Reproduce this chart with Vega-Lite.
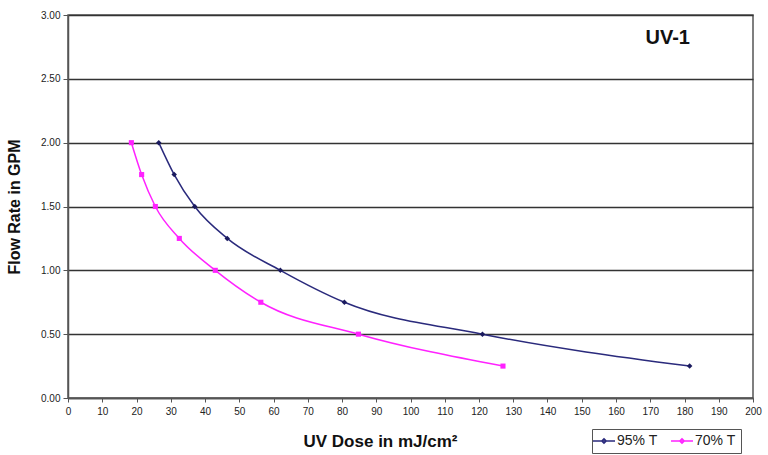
{
  "$schema": "https://vega.github.io/schema/vega-lite/v6.json",
  "width": 685,
  "height": 383,
  "autosize": {"type": "none"},
  "padding": {"left": 68, "top": 15, "right": 15, "bottom": 57},
  "background": "white",
  "config": {
    "font": "Liberation Sans",
    "view": {"stroke": "#555555", "strokeWidth": 1.5}
  },
  "title": {
    "text": "UV-1",
    "anchor": "end",
    "frame": "group",
    "orient": "top",
    "fontSize": 20,
    "fontWeight": "bold",
    "color": "#111111",
    "dx": -63,
    "dy": 42
  },
  "data": {
    "values": [
      {"series": "95% T", "dose": 26.5, "flow": 2.0},
      {"series": "95% T", "dose": 31, "flow": 1.75},
      {"series": "95% T", "dose": 37, "flow": 1.5},
      {"series": "95% T", "dose": 46.5, "flow": 1.25},
      {"series": "95% T", "dose": 62, "flow": 1.0},
      {"series": "95% T", "dose": 80.7, "flow": 0.75},
      {"series": "95% T", "dose": 121, "flow": 0.5},
      {"series": "95% T", "dose": 181.5, "flow": 0.25},
      {"series": "70% T", "dose": 18.5, "flow": 2.0},
      {"series": "70% T", "dose": 21.5, "flow": 1.75},
      {"series": "70% T", "dose": 25.5, "flow": 1.5},
      {"series": "70% T", "dose": 32.5, "flow": 1.25},
      {"series": "70% T", "dose": 43, "flow": 1.0},
      {"series": "70% T", "dose": 56.3, "flow": 0.75},
      {"series": "70% T", "dose": 84.8, "flow": 0.5},
      {"series": "70% T", "dose": 127, "flow": 0.25}
    ]
  },
  "encoding": {
    "x": {
      "field": "dose",
      "type": "quantitative",
      "scale": {"domain": [0, 200], "nice": false},
      "axis": {
        "values": [0,10,20,30,40,50,60,70,80,90,100,110,120,130,140,150,160,170,180,190,200],
        "grid": false,
        "title": "UV Dose in mJ/cm²",
        "titleFontSize": 17,
        "titleFontWeight": "bold",
        "titleColor": "#111111",
        "titleX": 312,
        "titleY": 48,
        "titleBaseline": "alphabetic",
        "labelFontSize": 10,
        "labelColor": "#222222",
        "labelPadding": 4,
        "domainColor": "#555555",
        "domainWidth": 1.5,
        "tickColor": "#555555",
        "tickSize": 4,
        "labelFlush": false
      }
    },
    "y": {
      "field": "flow",
      "type": "quantitative",
      "scale": {"domain": [0, 3], "nice": false},
      "axis": {
        "values": [0, 0.5, 1, 1.5, 2, 2.5, 3],
        "format": ".2f",
        "title": "Flow Rate in GPM",
        "titleFontSize": 16,
        "titleFontWeight": "bold",
        "titleColor": "#111111",
        "titleX": -46,
        "labelFontSize": 10,
        "labelColor": "#222222",
        "labelPadding": 3,
        "gridColor": "#333333",
        "gridWidth": 1.5,
        "gridOpacity": 1,
        "domainColor": "#555555",
        "domainWidth": 1.5,
        "tickColor": "#555555",
        "tickSize": 5
      }
    }
  },
  "layer": [
    {
      "mark": {"type": "line", "interpolate": "monotone", "strokeWidth": 1.5},
      "encoding": {
        "color": {
          "field": "series",
          "type": "nominal",
          "sort": ["95% T", "70% T"],
          "scale": {"domain": ["95% T", "70% T"], "range": ["#2a2a7c", "#ff22ff"]},
          "legend": {
            "title": null,
            "orient": "none",
            "legendX": 524,
            "legendY": 414,
            "direction": "horizontal",
            "symbolType": "M-2,0H2M0,-0.4L0.4,0L0,0.4L-0.4,0Z",
            "symbolSize": 121,
            "symbolStrokeWidth": 1.5,
            "labelFontSize": 14,
            "labelColor": "#222222",
            "strokeColor": "#555555",
            "padding": 5,
            "columnPadding": 10,
            "labelOffset": 6
          }
        }
      }
    },
    {
      "transform": [{"filter": "datum.series === '95% T'"}],
      "mark": {"type": "point", "shape": "diamond", "filled": true, "size": 30, "opacity": 1, "color": "#1a1a5e"}
    },
    {
      "transform": [{"filter": "datum.series === '70% T'"}],
      "mark": {"type": "point", "shape": "square", "filled": true, "size": 26, "opacity": 1, "color": "#ff22ff"}
    }
  ]
}
